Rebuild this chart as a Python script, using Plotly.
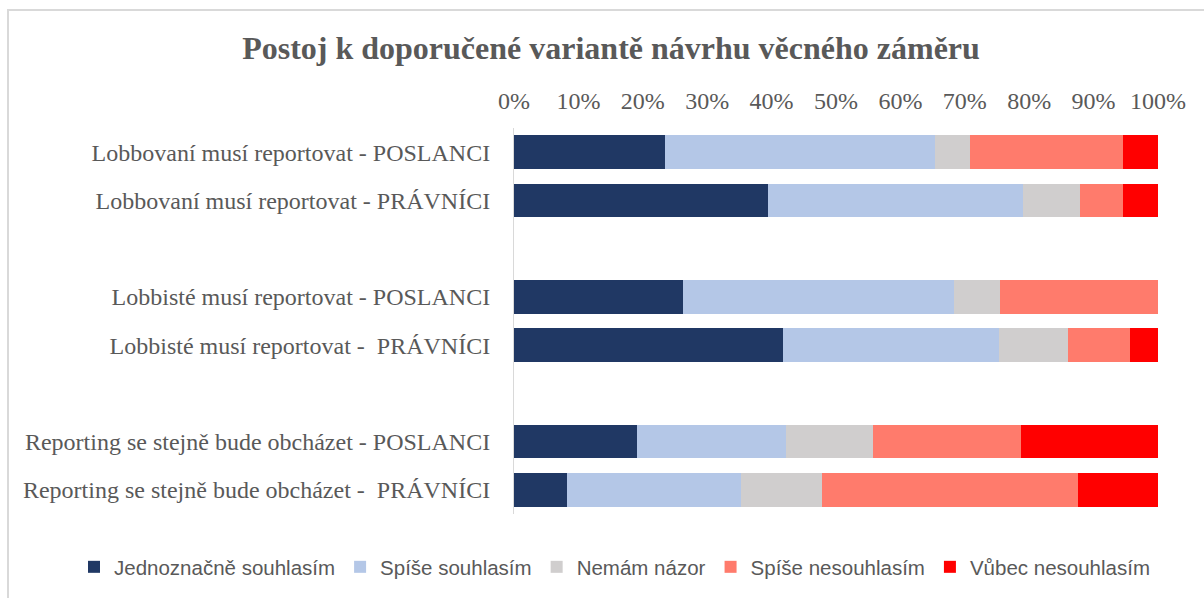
import plotly.graph_objects as go

categories = [
    "Lobbovaní musí reportovat - POSLANCI",
    "Lobbovaní musí reportovat - PRÁVNÍCI",
    " ",
    "Lobbisté musí reportovat - POSLANCI",
    "Lobbisté musí reportovat -  PRÁVNÍCI",
    "  ",
    "Reporting se stejně bude obcházet - POSLANCI",
    "Reporting se stejně bude obcházet -  PRÁVNÍCI",
]

series_names = ["Jednoznačně souhlasím", "Spíše souhlasím", "Nemám názor",
                "Spíše nesouhlasím", "Vůbec nesouhlasím"]
colors = ["#203864", "#B4C7E7", "#D0CECE", "#FF7B6C", "#FF0000"]

jednoznacne = [0.235, 0.395, None, 0.262, 0.418, None, 0.191, 0.082]
spise_souhlasim = [0.418, 0.396, None, 0.421, 0.335, None, 0.231, 0.271]
nemam_nazor = [0.055, 0.088, None, 0.071, 0.107, None, 0.135, 0.126]
spise_nesouhlasim = [0.238, 0.067, None, 0.246, 0.096, None, 0.231, 0.396]
vubec_nesouhlasim = [0.054, 0.054, None, 0.0, 0.044, None, 0.212, 0.125]

values = [jednoznacne, spise_souhlasim, nemam_nazor, spise_nesouhlasim, vubec_nesouhlasim]

fig = go.Figure()
for name, vals, c in zip(series_names, values, colors):
    fig.add_trace(go.Bar(
        y=categories, x=vals, name=name, orientation="h",
        marker=dict(color=c, line=dict(width=0)),
        hoverinfo="x+y+name",
    ))

serif = "Liberation Serif, Times New Roman, serif"
PL, PR, PT, PB = 514, 1158, 128, 514
PW, PH = PR - PL, PB - PT

fig.update_layout(
    barmode="stack",
    bargap=0.31,
    width=1204, height=598,
    margin=dict(l=PL, r=1204 - PR, t=PT, b=598 - PB, autoexpand=False),
    paper_bgcolor="white", plot_bgcolor="white",
    title=dict(
        text="<b>Postoj k doporučené variantě návrhu věcného záměru</b>",
        font=dict(family=serif, size=32, color="#595959"),
        x=611 / 1204, xanchor="center", xref="container",
        y=1 - 48 / 598, yanchor="middle", yref="container",
    ),
    xaxis=dict(
        side="top", range=[0, 1], tickformat=".0%", dtick=0.1, tick0=0,
        showgrid=False, zeroline=False, showline=False, ticks="",
        ticklabelstandoff=13, automargin=False,
        tickfont=dict(family=serif, size=24, color="#595959"),
        fixedrange=True,
    ),
    yaxis=dict(
        type="category", categoryorder="array", categoryarray=categories,
        autorange="reversed", automargin=False,
        showgrid=False, zeroline=False, showline=True, linecolor="#D9D9D9", linewidth=1,
        ticks="", ticklabelstandoff=18,
        tickfont=dict(family=serif, size=24, color="#595959"),
    ),
    legend=dict(
        orientation="h", xref="paper", yref="paper",
        x=(74 - PL) / PW, xanchor="left", y=(PB - 567) / PH, yanchor="middle",
        font=dict(family="Liberation Sans, Arial, sans-serif", size=20.5, color="#595959"),
        itemwidth=30, tracegroupgap=0, traceorder="normal",
        bgcolor="rgba(0,0,0,0)",
    ),
    showlegend=True,
)

# outer chart border (partially cropped, as in the reference)
fig.add_shape(type="rect", xref="paper", yref="paper",
              x0=(8 - PL) / PW, x1=(1215 - PL) / PW,
              y0=(PB - 610) / PH, y1=(PB - 10) / PH,
              line=dict(color="#D9D9D9", width=2), layer="below")

fig.write_html("out.html", config={"displayModeBar": False},
               post_script="document.body.style.margin='0';")
